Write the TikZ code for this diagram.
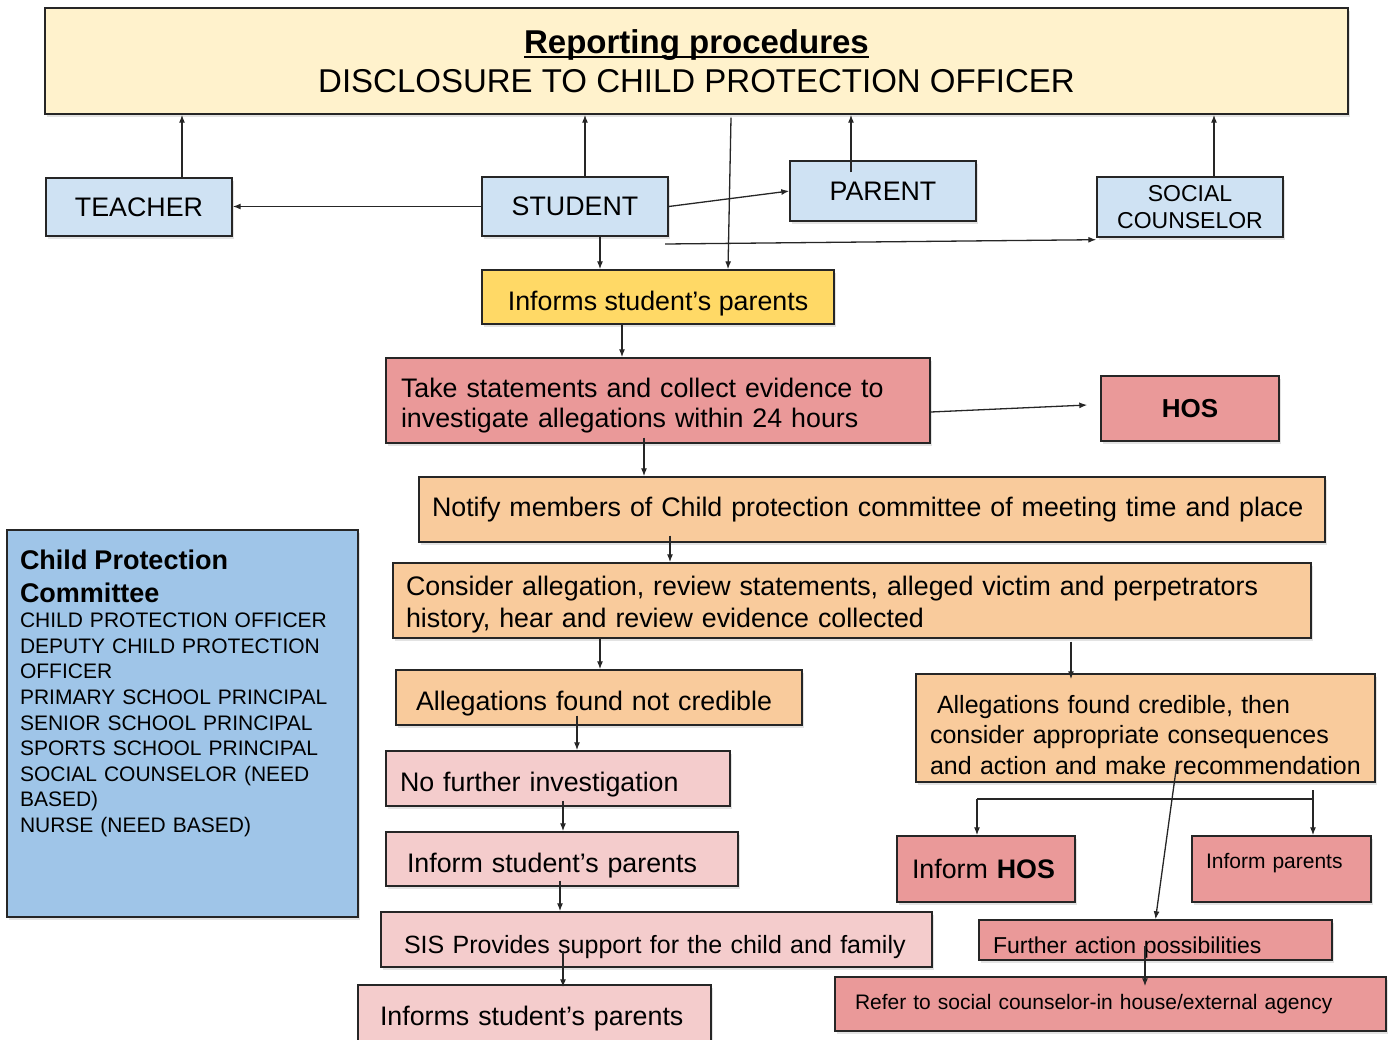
\documentclass[tikz,border=0pt]{standalone}
\usepackage{fontspec}
\setmainfont{Liberation Sans}
\usetikzlibrary{shadows,arrows.meta,calc}
\definecolor{cTitle}{HTML}{FFF2CC}
\definecolor{cBlue}{HTML}{CFE2F3}
\definecolor{cYellow}{HTML}{FFD966}
\definecolor{cRed}{HTML}{EA9999}
\definecolor{cOrange}{HTML}{F9CB9C}
\definecolor{cPink}{HTML}{F4CCCC}
\definecolor{cComm}{HTML}{9FC5E8}
\newcommand\ulbold[1]{\setbox0=\hbox{\bfseries #1}\rlap{\rule[-5pt]{\wd0}{2.2pt}}\box0}
\begin{document}
\begin{tikzpicture}[x=1pt,y=-1pt,
  box/.style={draw=black!85, line width=1.4pt, inner ysep=0pt,
    font=\fontsize{26.8}{32}\selectfont,
    drop shadow={shadow xshift=2pt, shadow yshift=-3pt, opacity=0.22}},
  arr/.style={draw=black!85, line width=1.3pt, -{Latex[length=8pt,width=6pt]}},
  ln/.style={draw=black!85, line width=1.3pt}]
\useasboundingbox (0,0) rectangle (1394,1039);
\clip (0,0) rectangle (1394,1039);

\node[box, fill=cTitle, minimum width=1303, minimum height=106, align=center,
  font=\fontsize{33}{39}\selectfont] (title) at (696.5,61)
  {\ulbold{Reporting procedures}\\DISCLOSURE TO CHILD PROTECTION OFFICER};

\node[box, fill=cBlue, minimum width=186, minimum height=58] (teacher) at (139,207) {TEACHER};
\node[box, fill=cBlue, minimum width=186, minimum height=59] (student) at (575,206.5) {STUDENT};
\node[box, fill=cBlue, minimum width=186, minimum height=60] (parent) at (883,191) {PARENT};
\node[box, fill=cBlue, minimum width=186, minimum height=60, align=center,
  font=\fontsize{23}{27}\selectfont] (social) at (1190,207) {SOCIAL\\COUNSELOR};

\node[box, fill=cYellow, minimum width=352, minimum height=54] (inf1) at (658,297) {\rule{0pt}{33.5pt}Informs student’s parents};

\node[box, fill=cRed, minimum width=544, minimum height=85, text width=514, inner xsep=15pt, align=left,
  font=\fontsize{26.8}{30}\selectfont] (take) at (658,400.5)
  {\rule{0pt}{28.7pt}\mbox{Take statements and collect evidence to}\\\mbox{investigate allegations within 24 hours}};
\node[box, fill=cRed, minimum width=178, minimum height=65,
  font=\fontsize{26}{30}\selectfont\bfseries] (hos) at (1190,408.5) {HOS};

\node[box, fill=cOrange, minimum width=906, minimum height=65, text width=880, inner xsep=13pt, align=left]
  (notify) at (872,509.5) {\mbox{Notify members of Child protection committee of meeting time and place}};
\node[box, fill=cOrange, minimum width=918, minimum height=75, text width=892, inner xsep=13pt, align=left,
  font=\fontsize{26.8}{32}\selectfont] (consider) at (852,600.5)
  {\rule{0pt}{26.7pt}\mbox{Consider allegation, review statements, alleged victim and perpetrators}\\\mbox{history, hear and review evidence collected}};

\node[box, fill=cOrange, minimum width=406, minimum height=55, text width=366, inner xsep=20pt, align=left]
  (notcred) at (599,697.5) {\rule{0pt}{31.7pt}\mbox{Allegations found not credible}};
\node[box, fill=cOrange, minimum width=459, minimum height=108, text width=431, inner xsep=14pt, align=left,
  font=\fontsize{25}{30.5}\selectfont] (cred) at (1145.5,728)
  {\rule{0pt}{32pt}\mbox{\hspace*{7pt}Allegations found credible, then}\\\mbox{consider appropriate consequences}\\\mbox{and action and make recommendation}};

\node[box, fill=cPink, minimum width=344, minimum height=55, text width=316, inner xsep=14pt, align=left]
  (nofur) at (558,778.5) {\rule{0pt}{30.7pt}\mbox{No further investigation}};
\node[box, fill=cPink, minimum width=352, minimum height=54, text width=310, inner xsep=21pt, align=left]
  (infsp) at (562,859) {\rule{0pt}{33.5pt}\mbox{Inform student’s parents}};
\node[box, fill=cPink, minimum width=551, minimum height=55, text width=505, inner xsep=23pt, align=left,
  font=\fontsize{25}{30}\selectfont] (sis) at (656.5,939.5)
  {\rule{0pt}{33pt}\mbox{SIS Provides support for the child and family}};
\node[box, fill=cPink, minimum width=353, minimum height=60, text width=309, inner xsep=22pt, align=left]
  (inf2) at (534.5,1015) {\rule{0pt}{25.7pt}\mbox{Informs student’s parents}};

\node[box, fill=cRed, minimum width=178, minimum height=66, text width=148, inner xsep=15pt, align=left]
  (infhos) at (986,869) {\mbox{Inform \textbf{HOS}}};
\node[box, fill=cRed, minimum width=179, minimum height=66, text width=151, inner xsep=14pt, align=left,
  font=\fontsize{21}{25}\selectfont] (infpar) at (1281.5,869) {\mbox{Inform parents}\rule[-16pt]{0pt}{16pt}};
\node[box, fill=cRed, minimum width=353, minimum height=40, text width=325, inner xsep=14pt, align=left,
  font=\fontsize{23}{27}\selectfont] (further) at (1155.5,940) {\rule{0pt}{31pt}\mbox{Further action possibilities}};
\node[box, fill=cRed, minimum width=551, minimum height=54, text width=511, inner xsep=20pt, align=left,
  font=\fontsize{21}{26}\selectfont] (refer) at (1110.5,1004) {\mbox{Refer to social counselor-in house/external agency}};

\node[box, fill=cComm, minimum width=351, minimum height=387, text width=325, inner xsep=13pt, align=left,
  font=\fontsize{21}{25.6}\selectfont] (comm) at (182.5,723.5)
  {{\fontsize{27}{33}\selectfont\bfseries Child Protection\\Committee\par}CHILD PROTECTION OFFICER\\DEPUTY CHILD PROTECTION\\OFFICER\\PRIMARY SCHOOL PRINCIPAL\\SENIOR SCHOOL PRINCIPAL\\SPORTS SCHOOL PRINCIPAL\\SOCIAL COUNSELOR (NEED\\BASED)\\NURSE (NEED BASED)\rule[-65pt]{0pt}{65pt}};

% connectors
\coordinate (tA) at ($(teacher.north)+(43,0)$);
\draw[arr] (tA) -- (tA |- title.south);
\coordinate (sA) at ($(student.north)+(10,0)$);
\draw[arr] (sA) -- (sA |- title.south);
\coordinate (pA) at ($(parent.north)+(-32,12)$);
\draw[arr] (pA) -- (pA |- title.south);
\coordinate (scA) at ($(social.north)+(24,0)$);
\draw[arr] (scA) -- (scA |- title.south);
\draw[arr] ($(title.south)+(34.5,3)$) -- ($(inf1.north)+(70,0)$);
\draw[arr] (student.west) -- (student.west -| teacher.east);
\draw[arr] (student.east) -- (parent.west);
\coordinate (free1) at (665,244);
\draw[arr] (free1) -- ($(social.south west)+(0,2)$);
\draw[arr] ($(student.south)+(25,0)$) -- ($(inf1.north)+(-58,0)$);
\draw[arr] ($(inf1.south)+(-36,0)$) -- ($(take.north)+(-36,0)$);
\draw[arr] ($(take.east)+(0,11.5)$) -- ($(hos.west)+(-13,-3.5)$);
\draw[arr] ($(take.south)+(-14,-6)$) -- ($(notify.north)+(-228,0)$);
\draw[arr] ($(notify.south)+(-202,-7)$) -- ($(consider.north)+(-182,0)$);
\draw[arr] ($(consider.south)+(-252,0)$) -- ($(notcred.north)+(1,0)$);
\draw[arr] ($(consider.south)+(219,3)$) -- ($(cred.north)+(-74.5,6)$);
\draw[arr] ($(notcred.south)+(-22,-10)$) -- ($(nofur.north)+(19,0)$);
\draw[arr] ($(nofur.south)+(5,-6)$) -- ($(infsp.north)+(1,0)$);
\draw[arr] ($(infsp.south)+(-2,-6)$) -- ($(sis.north)+(-96.5,0)$);
\draw[arr] ($(sis.south)+(-93.5,-17)$) -- ($(inf2.north)+(28.5,3)$);
\coordinate (br1) at (977,799);
\coordinate (br2) at (1313,799);
\coordinate (br2t) at (1313,790);
\draw[ln] (br1) -- (br2);
\draw[arr] (br1) -- (br1 |- infhos.north);
\draw[arr] (br2t) -- (br2t |- infpar.north);
\draw[arr] ($(cred.south)+(31.5,-20)$) -- (further.north);
\draw[arr] ($(further.south)+(-10.5,-15)$) -- ($(refer.north)+(34.5,10)$);
\end{tikzpicture}
\end{document}
